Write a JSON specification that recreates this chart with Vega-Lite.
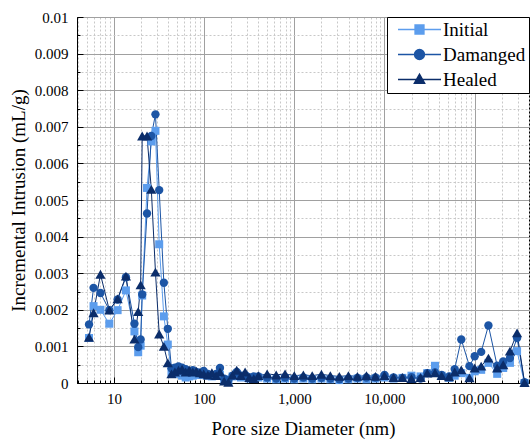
{
  "$schema": "https://vega.github.io/schema/vega-lite/v6.json",
  "width": 452,
  "height": 366,
  "autosize": {"type": "none"},
  "padding": {"left": 77, "top": 17, "right": 3, "bottom": 58},
  "background": "white",
  "config": {
    "view": {"stroke": "black", "strokeWidth": 1},
    "font": "Liberation Serif"
  },
  "data": {
    "values": [
      {"series":"Initial","d":5.3,"v":0.00123},{"series":"Initial","d":5.95,"v":0.0021},{"series":"Initial","d":7.1,"v":0.002},{"series":"Initial","d":8.9,"v":0.00162},{"series":"Initial","d":11.0,"v":0.00199},{"series":"Initial","d":13.6,"v":0.00253},{"series":"Initial","d":16.9,"v":0.00141},{"series":"Initial","d":18.6,"v":0.00084},{"series":"Initial","d":19.8,"v":0.00102},{"series":"Initial","d":20.6,"v":0.00239},{"series":"Initial","d":23.3,"v":0.00533},{"series":"Initial","d":26.0,"v":0.0066},{"series":"Initial","d":28.9,"v":0.00689},{"series":"Initial","d":31.8,"v":0.00379},{"series":"Initial","d":35.8,"v":0.00182},{"series":"Initial","d":39.6,"v":0.00105},
      {"series":"Initial","d":43.5,"v":0.0003},{"series":"Initial","d":47.5,"v":0.00025},{"series":"Initial","d":52,"v":0.0003},{"series":"Initial","d":57,"v":0.0002},{"series":"Initial","d":62.5,"v":0.00015},{"series":"Initial","d":68.5,"v":0.00018},{"series":"Initial","d":75,"v":0.0002},{"series":"Initial","d":82,"v":0.00022},{"series":"Initial","d":90,"v":0.00025},{"series":"Initial","d":99,"v":0.00022},{"series":"Initial","d":110,"v":0.0002},{"series":"Initial","d":122,"v":0.00018},{"series":"Initial","d":136,"v":0.0002},{"series":"Initial","d":150,"v":0.00022},{"series":"Initial","d":167,"v":0.0001},{"series":"Initial","d":186,"v":0.00005},{"series":"Initial","d":207,"v":0.00018},{"series":"Initial","d":230,"v":0.00025},{"series":"Initial","d":256,"v":0.00015},{"series":"Initial","d":285,"v":0.00018},{"series":"Initial","d":318,"v":0.00012},{"series":"Initial","d":355,"v":0.00015},
      {"series":"Initial","d":400,"v":0.00015},{"series":"Initial","d":500,"v":0.00012},{"series":"Initial","d":630,"v":0.0001},{"series":"Initial","d":790,"v":0.00012},{"series":"Initial","d":1000,"v":0.0001},{"series":"Initial","d":1260,"v":0.00012},{"series":"Initial","d":1580,"v":0.0001},{"series":"Initial","d":2000,"v":0.00012},{"series":"Initial","d":2510,"v":0.0001},{"series":"Initial","d":3160,"v":0.00008},{"series":"Initial","d":3980,"v":0.0001},{"series":"Initial","d":5010,"v":0.00012},{"series":"Initial","d":6310,"v":0.0001},{"series":"Initial","d":7940,"v":0.00012},{"series":"Initial","d":10000,"v":0.00015},{"series":"Initial","d":12600,"v":0.00012},{"series":"Initial","d":15800,"v":0.00014},{"series":"Initial","d":19900,"v":0.0002},{"series":"Initial","d":25100,"v":0.00018},
      {"series":"Initial","d":29800,"v":0.00027},{"series":"Initial","d":36300,"v":0.00047},{"series":"Initial","d":43000,"v":0.0002},{"series":"Initial","d":52000,"v":0.00014},{"series":"Initial","d":60000,"v":0.0002},{"series":"Initial","d":71000,"v":0.00027},{"series":"Initial","d":87500,"v":0.00014},{"series":"Initial","d":100000,"v":0.00032},{"series":"Initial","d":118000,"v":0.00036},{"series":"Initial","d":142000,"v":0.00055},{"series":"Initial","d":177500,"v":0.00025},{"series":"Initial","d":207000,"v":0.00041},{"series":"Initial","d":246000,"v":0.00055},{"series":"Initial","d":295000,"v":0.00087},{"series":"Initial","d":357000,"v":0.0},

      {"series":"Damanged","d":5.3,"v":0.0016},{"series":"Damanged","d":5.95,"v":0.0026},{"series":"Damanged","d":7.1,"v":0.00246},{"series":"Damanged","d":8.9,"v":0.00199},{"series":"Damanged","d":11.0,"v":0.00228},{"series":"Damanged","d":13.6,"v":0.00289},{"series":"Damanged","d":16.9,"v":0.00162},{"series":"Damanged","d":18.6,"v":0.00098},{"series":"Damanged","d":19.8,"v":0.00119},{"series":"Damanged","d":20.6,"v":0.00242},{"series":"Damanged","d":23.3,"v":0.00463},{"series":"Damanged","d":26.0,"v":0.00675},{"series":"Damanged","d":28.9,"v":0.00734},{"series":"Damanged","d":31.8,"v":0.00527},{"series":"Damanged","d":35.8,"v":0.00274},{"series":"Damanged","d":39.6,"v":0.00148},
      {"series":"Damanged","d":43.5,"v":0.0004},{"series":"Damanged","d":47.5,"v":0.00042},{"series":"Damanged","d":52,"v":0.00045},{"series":"Damanged","d":57,"v":0.00042},{"series":"Damanged","d":62.5,"v":0.00038},{"series":"Damanged","d":68.5,"v":0.0003},{"series":"Damanged","d":75,"v":0.00035},{"series":"Damanged","d":82,"v":0.0003},{"series":"Damanged","d":90,"v":0.00028},{"series":"Damanged","d":99,"v":0.00033},{"series":"Damanged","d":110,"v":0.00025},{"series":"Damanged","d":122,"v":0.0002},{"series":"Damanged","d":136,"v":0.00025},{"series":"Damanged","d":150,"v":0.00041},{"series":"Damanged","d":167,"v":0.00012},{"series":"Damanged","d":186,"v":0.00008},{"series":"Damanged","d":207,"v":0.0002},{"series":"Damanged","d":230,"v":0.0003},{"series":"Damanged","d":256,"v":0.0002},{"series":"Damanged","d":285,"v":0.00022},{"series":"Damanged","d":318,"v":0.00015},{"series":"Damanged","d":355,"v":0.00018},
      {"series":"Damanged","d":400,"v":0.00018},{"series":"Damanged","d":500,"v":0.00015},{"series":"Damanged","d":630,"v":0.00012},{"series":"Damanged","d":790,"v":0.00015},{"series":"Damanged","d":1000,"v":0.00012},{"series":"Damanged","d":1260,"v":0.00015},{"series":"Damanged","d":1580,"v":0.00012},{"series":"Damanged","d":2000,"v":0.00014},{"series":"Damanged","d":2510,"v":0.00012},{"series":"Damanged","d":3160,"v":0.0001},{"series":"Damanged","d":3980,"v":0.00012},{"series":"Damanged","d":5010,"v":0.00014},{"series":"Damanged","d":6310,"v":0.00015},{"series":"Damanged","d":7940,"v":0.00015},{"series":"Damanged","d":10000,"v":0.00022},{"series":"Damanged","d":12600,"v":0.00015},{"series":"Damanged","d":15800,"v":0.00014},{"series":"Damanged","d":19900,"v":0.00016},{"series":"Damanged","d":25100,"v":0.00012},
      {"series":"Damanged","d":29800,"v":0.00027},{"series":"Damanged","d":36300,"v":0.00029},{"series":"Damanged","d":43000,"v":0.00022},{"series":"Damanged","d":52000,"v":0.00018},{"series":"Damanged","d":60000,"v":0.00038},{"series":"Damanged","d":71000,"v":0.00119},{"series":"Damanged","d":87500,"v":0.00046},{"series":"Damanged","d":100000,"v":0.00073},{"series":"Damanged","d":118000,"v":0.00085},{"series":"Damanged","d":142000,"v":0.00157},{"series":"Damanged","d":177500,"v":0.00047},{"series":"Damanged","d":207000,"v":0.00059},{"series":"Damanged","d":246000,"v":0.00068},{"series":"Damanged","d":295000,"v":0.00123},{"series":"Damanged","d":357000,"v":0.00002},

      {"series":"Healed","d":5.3,"v":0.00125},{"series":"Healed","d":5.95,"v":0.00192},{"series":"Healed","d":7.1,"v":0.00297},{"series":"Healed","d":8.9,"v":0.00199},{"series":"Healed","d":11.0,"v":0.0023},{"series":"Healed","d":13.6,"v":0.00292},{"series":"Healed","d":16.9,"v":0.0012},{"series":"Healed","d":18.6,"v":0.00195},{"series":"Healed","d":19.8,"v":0.00268},{"series":"Healed","d":20.6,"v":0.00675},{"series":"Healed","d":23.3,"v":0.00675},{"series":"Healed","d":26.0,"v":0.00529},{"series":"Healed","d":28.9,"v":0.00303},{"series":"Healed","d":31.8,"v":0.00134},{"series":"Healed","d":35.8,"v":0.001},{"series":"Healed","d":39.6,"v":0.00055},
      {"series":"Healed","d":43.5,"v":0.00025},{"series":"Healed","d":47.5,"v":0.0003},{"series":"Healed","d":52,"v":0.00035},{"series":"Healed","d":57,"v":0.00038},{"series":"Healed","d":62.5,"v":0.0003},{"series":"Healed","d":68.5,"v":0.00035},{"series":"Healed","d":75,"v":0.0003},{"series":"Healed","d":82,"v":0.00032},{"series":"Healed","d":90,"v":0.00028},{"series":"Healed","d":99,"v":0.00025},{"series":"Healed","d":110,"v":0.00022},{"series":"Healed","d":122,"v":0.00028},{"series":"Healed","d":136,"v":0.0002},{"series":"Healed","d":150,"v":0.0003},{"series":"Healed","d":167,"v":0.00005},{"series":"Healed","d":186,"v":0.00002},{"series":"Healed","d":207,"v":0.00022},{"series":"Healed","d":230,"v":0.00035},{"series":"Healed","d":256,"v":0.0002},{"series":"Healed","d":285,"v":0.0003},{"series":"Healed","d":318,"v":0.00015},{"series":"Healed","d":355,"v":0.00012},
      {"series":"Healed","d":400,"v":0.0002},{"series":"Healed","d":500,"v":0.00025},{"series":"Healed","d":630,"v":0.00022},{"series":"Healed","d":790,"v":0.00025},{"series":"Healed","d":1000,"v":0.0002},{"series":"Healed","d":1260,"v":0.00022},{"series":"Healed","d":1580,"v":0.0002},{"series":"Healed","d":2000,"v":0.00024},{"series":"Healed","d":2510,"v":0.0002},{"series":"Healed","d":3160,"v":0.00018},{"series":"Healed","d":3980,"v":0.0002},{"series":"Healed","d":5010,"v":0.00018},{"series":"Healed","d":6310,"v":0.0002},{"series":"Healed","d":7940,"v":0.00018},{"series":"Healed","d":10000,"v":0.0002},{"series":"Healed","d":12600,"v":0.00015},{"series":"Healed","d":15800,"v":0.00015},{"series":"Healed","d":19900,"v":0.00012},{"series":"Healed","d":25100,"v":0.00015},
      {"series":"Healed","d":29800,"v":0.00027},{"series":"Healed","d":36300,"v":0.00028},{"series":"Healed","d":43000,"v":0.0002},{"series":"Healed","d":52000,"v":0.00017},{"series":"Healed","d":60000,"v":0.0003},{"series":"Healed","d":71000,"v":0.00036},{"series":"Healed","d":87500,"v":0.00014},{"series":"Healed","d":100000,"v":0.00041},{"series":"Healed","d":118000,"v":0.00046},{"series":"Healed","d":142000,"v":0.00068},{"series":"Healed","d":177500,"v":0.00041},{"series":"Healed","d":207000,"v":0.0005},{"series":"Healed","d":246000,"v":0.00087},{"series":"Healed","d":295000,"v":0.00137},{"series":"Healed","d":357000,"v":0.00001}
    ]
  },
  "encoding": {
    "x": {
      "field": "d", "type": "quantitative",
      "scale": {"type": "log", "domain": [3.9, 400000], "nice": false},
      "axis": {
        "title": "Pore size Diameter (nm)",
        "titleFont": "Liberation Serif", "titleFontSize": 18.75, "titleFontWeight": "normal", "titleColor": "black", "titlePadding": 10,
        "values": [4,5,6,7,8,9,10,20,30,40,50,60,70,80,90,100,200,300,400,500,600,700,800,900,1000,2000,3000,4000,5000,6000,7000,8000,9000,10000,20000,30000,40000,50000,60000,70000,80000,90000,100000,200000,300000,400000],
        "labelExpr": "indexof([10,100,1000,10000,100000], datum.value) >= 0 ? format(datum.value, ',') : ''",
        "labelFont": "Liberation Serif", "labelFontSize": 15, "labelColor": "black", "labelOverlap": false, "labelFlush": false, "labelPadding": 14,
        "grid": true,
        "gridColor": {"condition": {"test": "indexof([10,100,1000,10000,100000], datum.value) >= 0", "value": "#a0a0a0"}, "value": "#c8c8c8"},
        "gridDash": {"condition": {"test": "indexof([10,100,1000,10000,100000], datum.value) >= 0", "value": []}, "value": [2, 2]},
        "gridWidth": 1,
        "tickColor": "black",
        "tickSize": {"condition": {"test": "indexof([10,100,1000,10000,100000], datum.value) >= 0", "value": -6}, "value": -3},
        "domainColor": "black"
      }
    },
    "y": {
      "field": "v", "type": "quantitative",
      "scale": {"domain": [0, 0.01], "nice": false},
      "axis": {
        "title": "Incremental Intrusion (mL/g)",
        "titleFont": "Liberation Serif", "titleFontSize": 19, "titleFontWeight": "normal", "titleColor": "black", "titlePadding": 6,
        "values": [0,0.0005,0.001,0.0015,0.002,0.0025,0.003,0.0035,0.004,0.0045,0.005,0.0055,0.006,0.0065,0.007,0.0075,0.008,0.0085,0.009,0.0095,0.01],
        "labelExpr": "abs(datum.value*1000 - round(datum.value*1000)) < 0.000001 ? toString(round(datum.value*1000)/1000) : ''",
        "labelFont": "Liberation Serif", "labelFontSize": 15, "labelColor": "black", "labelOverlap": false, "labelFlush": false, "labelPadding": 15,
        "grid": true,
        "gridColor": {"condition": {"test": "abs(datum.value*1000 - round(datum.value*1000)) < 0.000001", "value": "#a0a0a0"}, "value": "#c8c8c8"},
        "gridDash": {"condition": {"test": "abs(datum.value*1000 - round(datum.value*1000)) < 0.000001", "value": []}, "value": [2, 2]},
        "gridWidth": 1,
        "tickColor": "black",
        "tickSize": {"condition": {"test": "abs(datum.value*1000 - round(datum.value*1000)) < 0.000001", "value": -6}, "value": -3},
        "domainColor": "black"
      }
    },
    "color": {
      "field": "series", "type": "nominal",
      "scale": {"domain": ["Initial", "Damanged", "Healed"], "range": ["#5c9ded", "#1c55a5", "#0b2d6a"]},
      "legend": {
        "title": null, "orient": "top-right", "offset": 0,
        "fillColor": "white", "strokeColor": "black", "padding": 3,
        "symbolSize": 100, "symbolOffset": 20, "labelOffset": 14,
        "labelFont": "Liberation Serif", "labelFontSize": 19, "labelColor": "black",
        "rowPadding": 5, "symbolStrokeWidth": 1.3, "symbolOpacity": 1,
        "symbolType": {"expr": "datum.value === 'Initial' ? 'M-4.3,0H4.3M-0.9,-0.9H0.9V0.9H-0.9Z' : datum.value === 'Damanged' ? 'M-4.3,0H4.3M-1,0A1,1,0,1,0,1,0A1,1,0,1,0,-1,0Z' : 'M-4.3,0H4.3M0,-1.1L1.05,0.75H-1.05Z'"},
        "encoding": {
          "symbols": {
            "stroke": {"value": {"expr": "scale('color', datum.value)"}},
            "fill": {"value": {"expr": "scale('color', datum.value)"}}
          }
        }
      }
    }
  },
  "layer": [
    {
      "mark": {"type": "line", "strokeWidth": 1},
      "encoding": {"detail": {"field": "series"}}
    },
    {
      "transform": [{"filter": "datum.series === 'Initial'"}],
      "mark": {"type": "point", "filled": true, "opacity": 1, "strokeWidth": 0, "shape": "square", "size": 64}
    },
    {
      "transform": [{"filter": "datum.series === 'Damanged'"}],
      "mark": {"type": "point", "filled": true, "opacity": 1, "strokeWidth": 0, "shape": "circle", "size": 70}
    },
    {
      "transform": [{"filter": "datum.series === 'Healed'"}],
      "mark": {"type": "point", "filled": true, "opacity": 1, "strokeWidth": 0, "shape": "triangle-up", "size": 105}
    }
  ]
}
